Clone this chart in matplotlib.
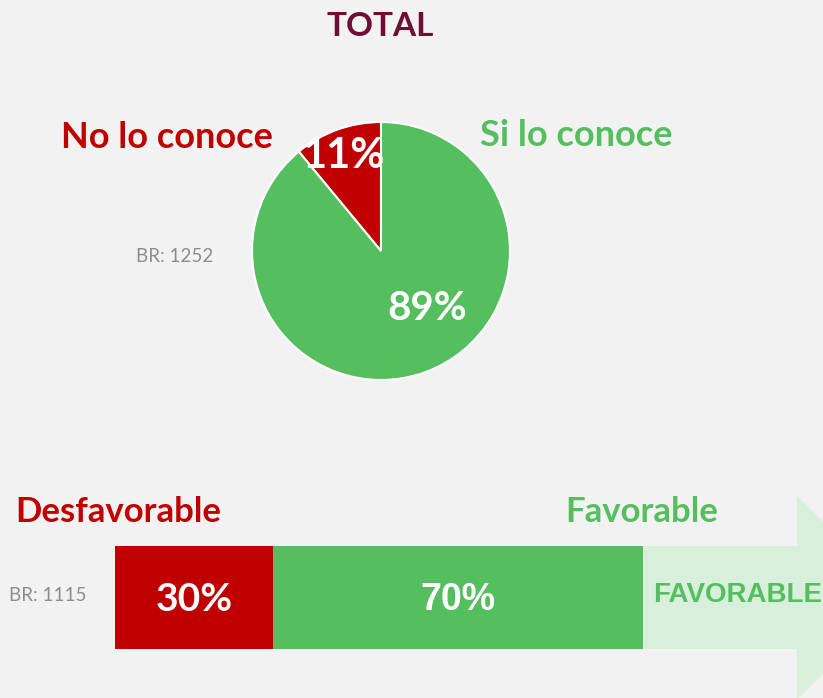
import matplotlib.pyplot as plt
from matplotlib.patches import Polygon

# Knowledge of the brand (pie) and opinion among those who know it (bar)
pie_labels = ["No lo conoce", "Si lo conoce"]
pie_values = [11, 89]
pie_base = "BR: 1252"

bar_labels = ["Desfavorable", "Favorable"]
bar_values = [30, 70]
bar_base = "BR: 1115"

RED = "#C00000"
GREEN = "#55BE5E"
LIGHT_GREEN = "#D8EFDB"
MAROON = "#6E0F33"
GRAY = "#8C8C8C"
BG = "#F2F2F2"

W, H = 823, 698
fig = plt.figure(figsize=(W / 100, H / 100), dpi=100, facecolor=BG)
ax = fig.add_axes([0, 0, 1, 1])
ax.set_facecolor(BG)

title_font = "Lato"
arial = "Liberation Sans"

# ---- pie ----
cx, cy, r = 381, 447, 129
ax.pie(pie_values, colors=[RED, GREEN], startangle=90, counterclock=True,
       center=(cx, cy), radius=r,
       wedgeprops=dict(edgecolor="white", linewidth=1.5))

ax.text(343, 698 - 156, f"{pie_values[0]}%", color="white", fontsize=30,
        fontweight="bold", family=title_font, ha="center", va="center")
ax.text(427, 698 - 308, f"{pie_values[1]}%", color="white", fontsize=29,
        fontweight="bold", family=title_font, ha="center", va="center")

ax.text(167, 698 - 137, pie_labels[0], color=RED, fontsize=26,
        fontweight="bold", family=title_font, ha="center", va="center")
ax.text(576, 698 - 135, pie_labels[1], color=GREEN, fontsize=26,
        fontweight="bold", family=title_font, ha="center", va="center")
ax.text(175, 698 - 257, pie_base, color=GRAY, fontsize=13.5,
        family=title_font, ha="center", va="center")

ax.text(380, 698 - 26, "TOTAL", color=MAROON, fontsize=24,
        fontweight="bold", family=title_font, ha="center", va="center")

# ---- stacked bar with arrow ----
bar_left, bar_total = 115, 528
bar_y, bar_h = 698 - 597.5, 103
scale = bar_total / sum(bar_values)
widths = [v * scale for v in bar_values]
lefts = [bar_left, bar_left + widths[0]]
bar_end = lefts[1] + widths[1]

# light arrow after the bar
shaft_end = 797
head_half = 102
arrow = Polygon([
    (bar_end, bar_y - bar_h / 2), (shaft_end, bar_y - bar_h / 2),
    (shaft_end, bar_y - head_half), (shaft_end + head_half, bar_y),
    (shaft_end, bar_y + head_half), (shaft_end, bar_y + bar_h / 2),
    (bar_end, bar_y + bar_h / 2)], closed=True, facecolor=LIGHT_GREEN,
    edgecolor="none", zorder=1)
ax.add_patch(arrow)

ax.barh([bar_y, bar_y], widths, left=lefts, height=bar_h,
        color=[RED, GREEN], zorder=2)

ax.text(lefts[0] + widths[0] / 2, bar_y - 2, f"{bar_values[0]}%", color="white",
        fontsize=28, fontweight="bold", family=title_font,
        ha="center", va="center", zorder=3)
ax.text(lefts[1] + widths[1] / 2, bar_y - 2, f"{bar_values[1]}%", color="white",
        fontsize=27, fontweight="bold", family=arial,
        ha="center", va="center", zorder=3)
ax.text(653, bar_y + 2, "FAVORABLE", color=GREEN, fontsize=20,
        fontweight="bold", family=arial, ha="left", va="center", zorder=3)

ax.text(118, 698 - 512, bar_labels[0], color=RED, fontsize=25,
        fontweight="bold", family=title_font, ha="center", va="center")
ax.text(642, 698 - 512, bar_labels[1], color=GREEN, fontsize=25,
        fontweight="bold", family=title_font, ha="center", va="center")
ax.text(48, bar_y + 2, bar_base, color=GRAY, fontsize=13.5,
        family=title_font, ha="center", va="center")

ax.set_xlim(0, W)
ax.set_ylim(0, H)
ax.set_aspect("auto")
ax.axis("off")

fig.savefig("out.png", dpi=100, facecolor=BG)
